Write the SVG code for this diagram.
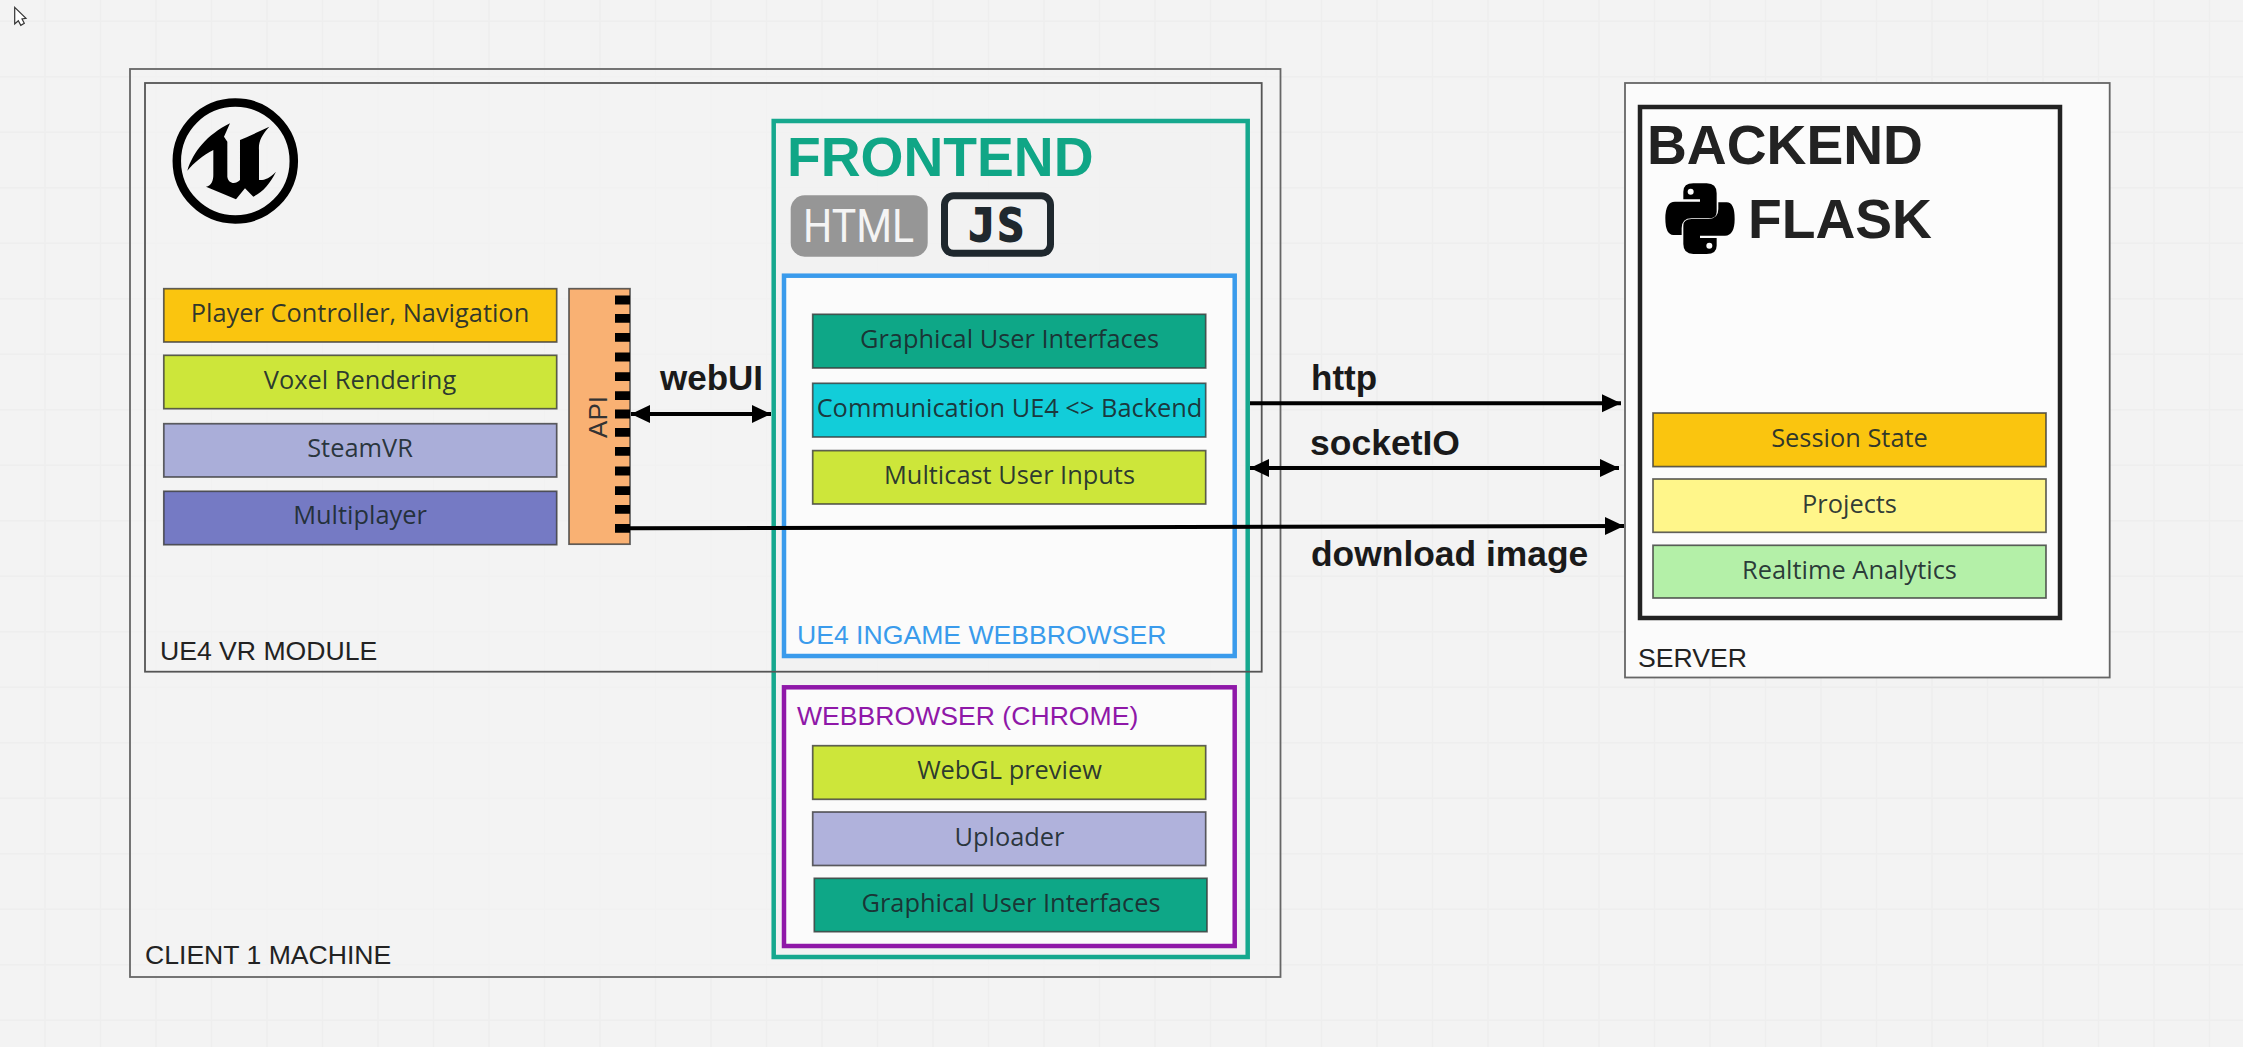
<svg xmlns="http://www.w3.org/2000/svg" xmlns:xlink="http://www.w3.org/1999/xlink" width="2243" height="1047" viewBox="0 0 2243 1047">
<defs>
<style>
.box{stroke:#3a3a3a;stroke-opacity:.8;stroke-width:1.700}
.t{font-family:"Open Sans","Noto Sans",sans-serif;font-size:25.4px;text-anchor:middle;fill:#1c2a2e;fill-opacity:.92}
.lb{font-family:"Liberation Sans",Arial,sans-serif;font-size:26.6px;fill:#222}
.big{font-family:"Liberation Sans",Arial,sans-serif;font-size:55.2px;font-weight:700}
.ed{font-family:"Liberation Sans",Arial,sans-serif;font-size:35px;font-weight:700;fill:#1a1a1a}
.con{fill:none;stroke:#000;stroke-width:4}
.grid{stroke:#eeeeee;stroke-width:1.5;fill:none}
</style>
<marker id="ah" markerUnits="userSpaceOnUse" markerWidth="20" markerHeight="20" refX="19" refY="9" orient="auto-start-reverse"><path d="M0 0L19 9L0 18Z" fill="#000"/></marker>
<path id="snake" d="M160 40H200Q230 40 230 70V125Q230 145 205 145H155Q125 145 125 175V195H100Q76 195 76 145Q76 95 105 95H180V88H130V65Q130 40 160 40Z"/>
</defs>
<rect width="2243" height="1047" fill="#f3f3f3"/>
<path class="grid" d="M45 0V1047M100.500 0V1047M156 0V1047M211.500 0V1047M267 0V1047M322.500 0V1047M378 0V1047M433.500 0V1047M489 0V1047M544.500 0V1047M600 0V1047M655.500 0V1047M711 0V1047M766.500 0V1047M822 0V1047M877.500 0V1047M933 0V1047M988.500 0V1047M1044 0V1047M1099.500 0V1047M1155 0V1047M1210.500 0V1047M1266 0V1047M1321.500 0V1047M1377 0V1047M1432.500 0V1047M1488 0V1047M1543.500 0V1047M1599 0V1047M1654.500 0V1047M1710 0V1047M1765.500 0V1047M1821 0V1047M1876.500 0V1047M1932 0V1047M1987.500 0V1047M2043 0V1047M2098.500 0V1047M2154 0V1047M2209.500 0V1047M0 21.200H2243M0 76.700H2243M0 132.200H2243M0 187.700H2243M0 243.200H2243M0 298.700H2243M0 354.200H2243M0 409.700H2243M0 465.200H2243M0 520.700H2243M0 576.200H2243M0 631.700H2243M0 687.200H2243M0 742.700H2243M0 798.200H2243M0 853.700H2243M0 909.200H2243M0 964.700H2243M0 1020.200H2243"/>
<path id="cursor" d="M14.700 7.300V24L18.300 20.700L20.800 25.300L24.300 23.300L22 19L26 18.300Z" fill="#fff" stroke="#333" stroke-width="1.200"/>

<g id="client-machine">
<rect x="130" y="69" width="1150.500" height="908" fill="#f3f3f3" fill-opacity=".6" stroke="#666" stroke-width="1.800"/>
<text class="lb" x="145" y="964">CLIENT 1 MACHINE</text>
</g>

<g id="frontend">
<rect x="773.700" y="121" width="474" height="836" fill="#f2f2f2" fill-opacity=".6" stroke="#16a88e" stroke-width="4.500"/>
<text class="big" x="787" y="175.700" fill="#10a686">FRONTEND</text>
<rect x="790.700" y="195.300" width="137" height="61.400" rx="14" fill="#969696"/>
<text x="803" y="242" font-family="Roboto,'Liberation Sans',sans-serif" font-size="46" fill="#f4f4f4" textLength="111" lengthAdjust="spacingAndGlyphs">HTML</text>
<rect x="944.500" y="195.800" width="106" height="57.500" rx="9" fill="none" stroke="#1f282e" stroke-width="7"/>
<text x="968.500" y="240.700" font-family="'DejaVu Sans Mono',monospace" font-weight="700" font-size="44" fill="#1f282e" stroke="#1f282e" stroke-width="1.800" letter-spacing="2.500">JS</text>
</g>

<g id="ue4-ingame-webbrowser">
<rect x="784" y="275.700" width="450.700" height="380.300" fill="#fbfbfb" stroke="#3a9bec" stroke-width="4.500"/>
<text class="lb" x="797" y="644" style="fill:#3a9bec">UE4 INGAME WEBBROWSER</text>
</g>
<g id="gui-1"><rect class="box" x="812.700" y="314.300" width="393" height="53.700" fill="#0ea787"/><text class="t" x="1009.500" y="347.800">Graphical User Interfaces</text></g>
<g id="communication"><rect class="box" x="812.700" y="383.300" width="393" height="53.700" fill="#12cdd9"/><text class="t" x="1009.500" y="417">Communication UE4 &lt;&gt; Backend</text></g>
<g id="multicast"><rect class="box" x="812.700" y="450.600" width="393" height="53.400" fill="#cde63a"/><text class="t" x="1009.500" y="484">Multicast User Inputs</text></g>

<g id="webbrowser-chrome">
<rect x="784" y="687.300" width="450.700" height="258.700" fill="#fbfbfb" stroke="#8f18a8" stroke-width="4.500"/>
<text class="lb" x="797" y="725" style="fill:#8f18a8">WEBBROWSER (CHROME)</text>
</g>
<g id="webgl"><rect class="box" x="812.700" y="745.700" width="393" height="53.600" fill="#cde63a"/><text class="t" x="1009.500" y="778.800">WebGL preview</text></g>
<g id="uploader"><rect class="box" x="812.700" y="812" width="393" height="53.500" fill="#b0b2dc"/><text class="t" x="1009.500" y="845.500">Uploader</text></g>
<g id="gui-2"><rect class="box" x="814.300" y="878.300" width="392.700" height="53.400" fill="#0ea787"/><text class="t" x="1011" y="912">Graphical User Interfaces</text></g>

<g id="ue4-vr-module">
<rect x="145" y="83" width="1116.700" height="588.700" fill="none" stroke="#555" stroke-width="1.800"/>
<text class="lb" x="160" y="660">UE4 VR MODULE</text>
<g id="ue-logo">
<circle cx="235.300" cy="161" r="58.500" fill="none" stroke="#000" stroke-width="8.500"/>
<path transform="translate(150 80) scale(.3333)" d="M112 272C130 215 170 165 240 130L222 170L232 185V290C235 310 255 315 270 300V180L290 172L358 140C335 165 325 185 327 210V300C340 302 360 295 378 275C360 310 340 335 310 350L285 325L258 358L168 320C185 318 190 300 190 285V210C160 225 130 250 112 272Z" fill="#000"/>
</g>
</g>
<g id="player-controller"><rect class="box" x="163.800" y="288.700" width="392.900" height="53.300" fill="#fac50f"/><text class="t" x="360" y="322.200">Player Controller, Navigation</text></g>
<g id="voxel-rendering"><rect class="box" x="163.800" y="355.300" width="392.900" height="53.400" fill="#cde63a"/><text class="t" x="360" y="388.800">Voxel Rendering</text></g>
<g id="steamvr"><rect class="box" x="163.800" y="423.700" width="392.900" height="53.300" fill="#aaaed9"/><text class="t" x="360" y="457.200">SteamVR</text></g>
<g id="multiplayer"><rect class="box" x="163.800" y="491.300" width="392.900" height="53.400" fill="#757ac4"/><text class="t" x="360" y="524">Multiplayer</text></g>
<g id="api">
<rect class="box" x="569" y="288.700" width="61" height="255.500" fill="#f9b173"/>
<path fill="none" stroke="#000" stroke-width="8.800" d="M615 300H630M615 318.300H630M615 337.300H630M615 357H630M615 376.700H630M615 395.700H630M615 414H630M615 432.300H630M615 451.300H630M615 471H630M615 490.700H630M615 509.300H630M615 528.300H630"/>
<text transform="translate(607 417) rotate(-90)" font-family="'Liberation Sans',sans-serif" font-size="26" text-anchor="middle" fill="#333">API</text>
</g>

<g id="server">
<rect x="1625" y="83" width="484.700" height="594.500" fill="#fbfbfb" stroke="#666" stroke-width="1.800"/>
<text class="lb" x="1638" y="667">SERVER</text>
</g>
<g id="backend">
<rect x="1640" y="107" width="420" height="511" fill="#fcfcfc" stroke="#222" stroke-width="4.500"/>
<text class="big" x="1647" y="164" fill="#222">BACKEND</text>
<text class="big" x="1748" y="238.400" fill="#222">FLASK</text>
<g id="python-logo" transform="translate(1640 170) scale(.3333)">
<use href="#snake" xlink:href="#snake" fill="#000"/><circle cx="152" cy="65" r="9" fill="#fcfcfc"/>
<g transform="rotate(180 180 146)"><use href="#snake" xlink:href="#snake" fill="#000"/><circle cx="152" cy="65" r="9" fill="#fcfcfc"/></g>
</g>
</g>
<g id="session-state"><rect class="box" x="1653" y="413" width="393" height="53.600" fill="#fac50f"/><text class="t" x="1849.500" y="447">Session State</text></g>
<g id="projects"><rect class="box" x="1653" y="479" width="393" height="53.300" fill="#fff68a"/><text class="t" x="1849.500" y="512.500">Projects</text></g>
<g id="realtime-analytics"><rect class="box" x="1653" y="545.300" width="393" height="52.700" fill="#b4f0a8"/><text class="t" x="1849.500" y="578.500">Realtime Analytics</text></g>

<g id="connectors">
<line class="con" x1="631" y1="414" x2="771" y2="414" marker-start="url(#ah)" marker-end="url(#ah)"/>
<line class="con" x1="1250" y1="403.300" x2="1621" y2="403.300" marker-end="url(#ah)"/>
<line class="con" x1="1250" y1="468" x2="1619" y2="468" marker-start="url(#ah)" marker-end="url(#ah)"/>
<line class="con" x1="630" y1="528.300" x2="1624" y2="526" marker-end="url(#ah)"/>
</g>
<g id="edge-labels">
<text class="ed" x="660" y="390">webUI</text>
<text class="ed" x="1311" y="390">http</text>
<text class="ed" x="1310" y="454.500" style="font-size:35.500px">socketIO</text>
<text class="ed" x="1311" y="565.500" style="font-size:35.400px">download image</text>
</g>
</svg>
